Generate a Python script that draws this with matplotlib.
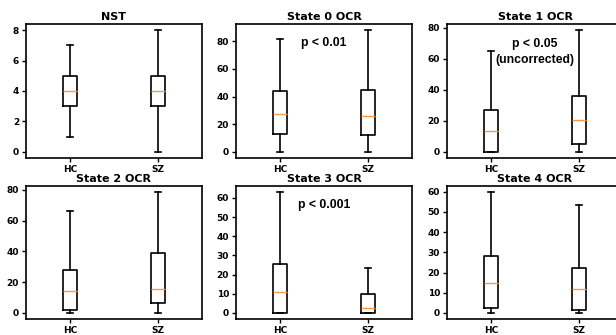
import matplotlib
matplotlib.use("Agg")
import matplotlib.pyplot as plt

# группы и заголовки панелей
groups = ["HC", "SZ"]
titles = ["NST", "State 0 OCR", "State 1 OCR", "State 2 OCR", "State 3 OCR", "State 4 OCR"]
p_texts = ["", "p < 0.01", "p < 0.05\n(uncorrected)", "", "p < 0.001", ""]

# статистики ящиков: [HC, SZ] для каждой панели
whislo = [[1, 0], [0, 0], [0, 0], [0, 0], [0, 0], [0, 0]]
q1 = [[3, 3], [13, 12.5], [0, 4.9], [2.1, 6.2], [0, 0], [2.3, 1.5]]
med = [[4, 4], [27.5, 25.8], [13.3, 20.3], [14.1, 15.6], [10.7, 2.4], [14.6, 12.0]]
q3 = [[5, 5], [43.8, 44.8], [26.8, 36], [28.2, 38.7], [25.3, 9.8], [28.3, 22.4]]
whishi = [[7, 8], [81.6, 88.1], [64.8, 78.5], [66.3, 78.5], [63.1, 23.4], [59.8, 53.2]]

plt.rcParams['font.family'] = 'DejaVu Sans'
plt.rcParams['font.weight'] = 'bold'

fig = plt.figure(figsize=(6.16, 3.35), dpi=100)

W, H = 616, 335
lefts = [26, 236, 447]
rows = [(24, 158), (186, 319)]
aw = 176

for i in range(6):
    r, c = divmod(i, 3)
    top, bot = rows[r]
    ax = fig.add_axes([lefts[c] / W, 1 - bot / H, aw / W, (bot - top) / H])
    stats = []
    for g in range(2):
        stats.append(dict(label=groups[g], whislo=whislo[i][g], q1=q1[i][g],
                          med=med[i][g], q3=q3[i][g], whishi=whishi[i][g], fliers=[]))
    ax.bxp(stats, showfliers=False,
           boxprops=dict(linewidth=1.2, color='black'),
           whiskerprops=dict(linewidth=1.2, color='black'),
           capprops=dict(linewidth=1.2, color='black'),
           medianprops=dict(linewidth=1.0, color='#f59a4c'))
    ax.set_title(titles[i], fontsize=8, fontweight='bold', pad=3)
    ax.tick_params(labelsize=6.5, length=3, width=1, pad=2)
    for lab in ax.get_xticklabels() + ax.get_yticklabels():
        lab.set_fontweight('bold')
    for s in ax.spines.values():
        s.set_linewidth(1.2)
    if p_texts[i]:
        # подпись с p-значением, две строки опускаем чуть ниже
        ty = 0.79 if "\n" in p_texts[i] else 0.855
        ax.text(0.5, ty, p_texts[i], transform=ax.transAxes, ha='center', va='center',
                fontsize=8.8, fontweight='bold', family='Liberation Sans',
                linespacing=1.45)

fig.savefig("out.png", dpi=100)
